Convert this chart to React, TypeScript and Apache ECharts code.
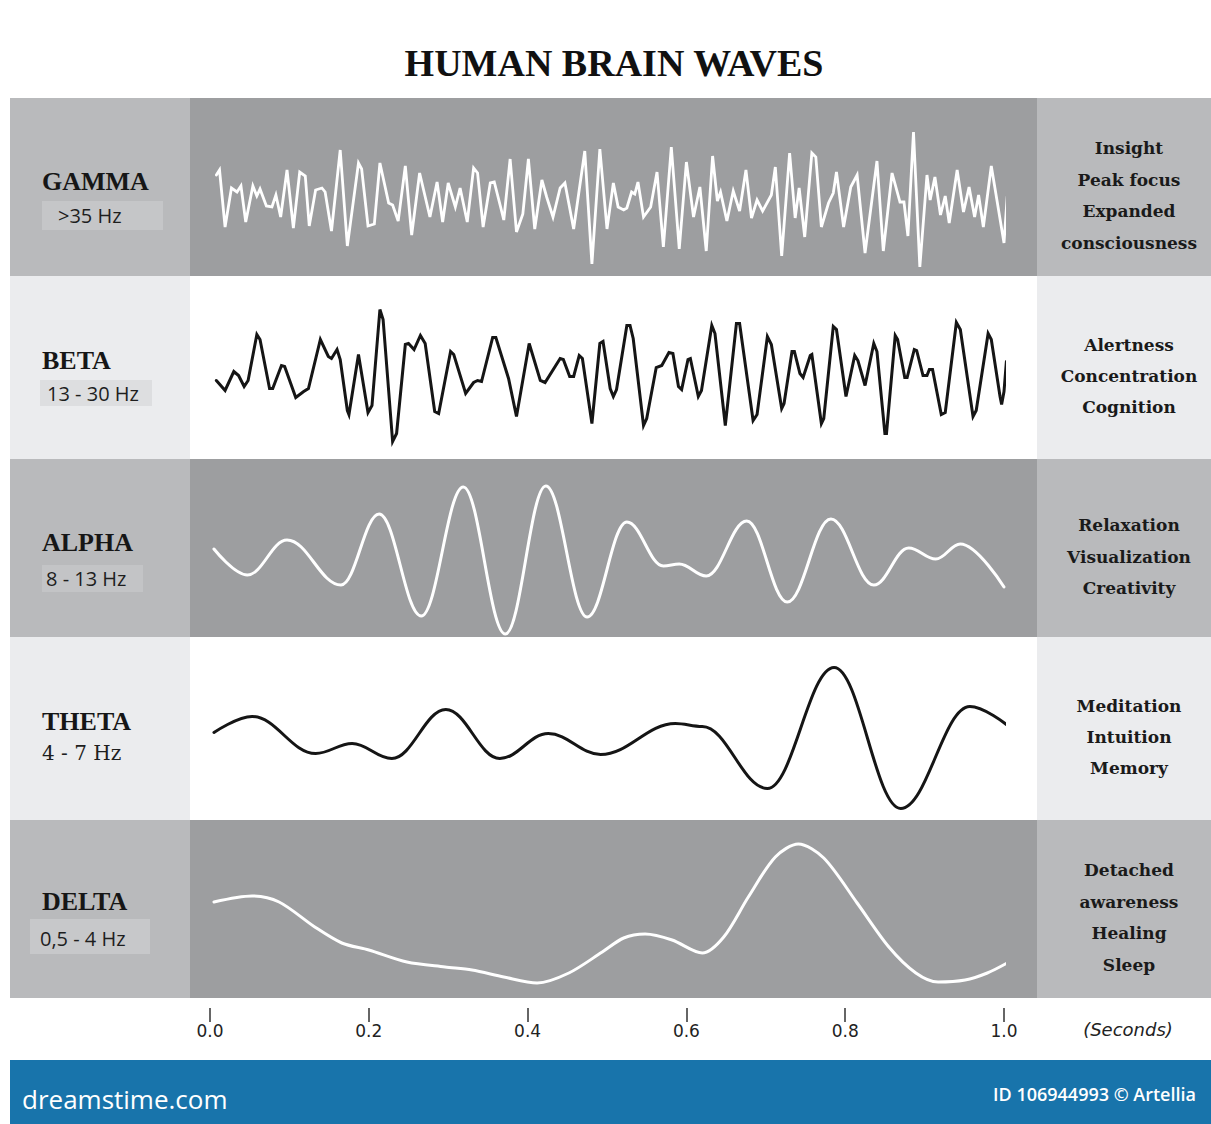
import React, { useEffect, useRef } from "react";
import * as echarts from "echarts";

// ---------- data ----------
const chartTitle = "HUMAN BRAIN WAVES";
const bandNames = ["GAMMA", "BETA", "ALPHA", "THETA", "DELTA"];
const bandRanges = [">35 Hz", "13 - 30 Hz", "8 - 13 Hz", "4 - 7 Hz", "0,5 - 4 Hz"];
const bandStates = [
  ["Insight", "Peak focus", "Expanded", "consciousness"],
  ["Alertness", "Concentration", "Cognition"],
  ["Relaxation", "Visualization", "Creativity"],
  ["Meditation", "Intuition", "Memory"],
  ["Detached", "awareness", "Healing", "Sleep"],
];
const axisUnit = "(Seconds)";
const footerSite = "dreamstime.com";
const footerCredit = "ID 106944993 \u00A9 Artellia";

// [time in ms, amplitude (arbitrary units)]
const gammaWave = [
  [8, 12], [12, 17], [19, -40], [27, -1], [34, -5], [39, 1], [45, -35], [54, 1], [59, -9], [63, -2],
  [71, -19], [78, -20], [83, -8], [89, -30], [97, 17], [105, -41], [113, 15], [120, 11], [125, -39], [133, -3],
  [141, -1], [145, -5], [153, -44], [164, 37], [173, -59], [187, 24], [191, 18], [199, -39], [207, -37], [214, 24],
  [225, -16], [230, -18], [237, -34], [246, 21], [254, -48], [264, 14], [277, -30], [286, 5], [293, -35], [300, 4],
  [309, -20], [315, -1], [324, -35], [332, 19], [337, 14], [344, -40], [353, 4], [358, 5], [366, -20], [370, -33],
  [378, 28], [386, -45], [394, -27], [401, 28], [409, -42], [418, 7], [424, -10], [432, -30], [441, -1], [447, 4],
  [458, -42], [472, 36], [481, -77], [491, 38], [500, -42], [508, 4], [514, -20], [521, -23], [525, -21], [531, -5],
  [535, -7], [539, 5], [546, -30], [555, -20], [563, 15], [571, -60], [581, 40], [591, -62], [600, 25], [609, -30],
  [617, 0], [625, -64], [633, 31], [639, -14], [643, -5], [651, -34], [659, -4], [667, -24], [675, 17], [682, -31],
  [689, -13], [696, -24], [707, -8], [712, 20], [720, -69], [730, 34], [737, -31], [742, -1], [749, -50], [758, 34],
  [763, 30], [770, -40], [779, -16], [785, -6], [789, 15], [798, -40], [807, 0], [815, 12], [825, -66], [840, 26],
  [848, -64], [859, 14], [869, -15], [874, -15], [879, -49], [886, 55], [894, -80], [903, 12], [907, -13], [913, 10],
  [920, -28], [926, -9], [931, -36], [941, 17], [949, -25], [956, 0], [963, -30], [968, -8], [974, -40], [984, 21],
  [1000, -56], [1004, -10],
];

const betaWave = [
  [8, -13], [19, -23], [30, -4], [36, -8], [43, -19], [48, -13], [59, 33], [63, 28], [75, -21], [79, -21],
  [90, 2], [94, 1], [108, -30], [118, -24], [124, -21], [139, 28], [149, 11], [153, 9], [160, 18], [164, 8],
  [173, -43], [175, -47], [187, 13], [199, -45], [204, -38], [214, 58], [218, 48], [230, -74], [235, -66], [246, 23],
  [250, 24], [257, 18], [265, 32], [271, 24], [283, -44], [288, -46], [303, 16], [307, 13], [322, -26], [332, -15],
  [337, -13], [342, -14], [356, 30], [360, 30], [376, -11], [386, -49], [402, 24], [416, -13], [422, -15], [441, 9],
  [445, 8], [453, -9], [458, -9], [465, 12], [469, 9], [481, -56], [491, 24], [495, 26], [504, -21], [508, -29],
  [512, -22], [525, 42], [529, 42], [533, 29], [546, -58], [550, -51], [562, 0], [569, 2], [578, 15], [583, 14],
  [590, -19], [594, -22], [602, 8], [605, 9], [615, -29], [619, -23], [632, 42], [636, 34], [649, -58], [663, 44],
  [667, 44], [684, -53], [689, -47], [702, 31], [707, 23], [720, -41], [723, -36], [733, 16], [736, 16], [743, -6],
  [747, -10], [756, 12], [758, 13], [770, -56], [773, -51], [785, 41], [789, 38], [801, -29], [812, 12], [816, 7],
  [825, -18], [836, 24], [840, 16], [850, -66], [852, -66], [863, 32], [866, 28], [875, -10], [878, -10], [887, 18],
  [890, 17], [898, -8], [903, -8], [906, -2], [910, -2], [921, -47], [926, -45], [940, 45], [945, 38], [961, -49],
  [965, -43], [980, 34], [984, 28], [995, -29], [997, -37], [1000, -24], [1003, 6],
];

const alphaWave = [
  [5, -1], [47, -27], [97, 8], [165, -37], [213, 34], [266, -68], [319, 61], [372, -86], [423, 62], [475, -69],
  [525, 26], [571, -18], [591, -16], [625, -28], [676, 27], [727, -54], [782, 29], [836, -37], [880, 0], [914, -11],
  [945, 4], [1000, -39],
];

const thetaWave = [
  [5, -4], [53, 12], [133, -25], [179, -15], [229, -30], [297, 19], [365, -30], [426, -5], [492, -26], [586, 5],
  [620, 2], [702, -60], [786, 61], [870, -80], [957, 22], [1003, 4],
];

const deltaWave = [
  [5, 7], [53, 13], [87, 7], [132, -18], [166, -34], [200, -41], [248, -53], [296, -58], [330, -61], [370, -68],
  [412, -74], [452, -64], [494, -43], [521, -29], [548, -25], [582, -31], [620, -44], [647, -28], [678, 12], [712, 52],
  [741, 65], [773, 51], [815, 6], [855, -38], [889, -64], [917, -73], [951, -71], [979, -64], [1004, -54],
];

const timeTicksMs = [0, 200, 400, 600, 800, 1000];

// ---------- layout / style ----------
const ROWS = [
  { top: 98, height: 178, dark: true, nameY: 181, rangeY: 215, rangeX: 58, box: [42, 201, 121, 29], boxFill: "#c5c6c8", serifRange: false },
  { top: 276, height: 183, dark: false, nameY: 360, rangeY: 393, rangeX: 47, box: [40, 380, 112, 26], boxFill: "#dddee0", serifRange: false },
  { top: 459, height: 178, dark: true, nameY: 542, rangeY: 578, rangeX: 46, box: [42, 565, 101, 27], boxFill: "#c3c4c6", serifRange: false },
  { top: 637, height: 183, dark: false, nameY: 721, rangeY: 753, rangeX: 42, box: null, boxFill: "", serifRange: true },
  { top: 820, height: 178, dark: true, nameY: 901, rangeY: 938, rangeX: 40, box: [30, 919, 120, 35], boxFill: "#c7c8ca", serifRange: false },
];
const WAVES = [
  { data: gammaWave, color: "#ffffff", width: 2.8, smooth: false as any, mono: undefined as any },
  { data: betaWave, color: "#151515", width: 3, smooth: false as any, mono: undefined as any },
  { data: alphaWave, color: "#ffffff", width: 3, smooth: 0.38, mono: "x" },
  { data: thetaWave, color: "#151515", width: 3, smooth: 0.38, mono: "x" },
  { data: deltaWave, color: "#ffffff", width: 3, smooth: 0.3, mono: undefined as any },
];
const PLOT_LEFT = 210;
const PLOT_WIDTH = 794;

function txt(x: number, y: number, text: string, font: string, fill: string, align = "left") {
  return {
    type: "text",
    silent: true,
    z: 10,
    style: {
      x,
      y,
      text,
      font,
      fill,
      textAlign: align,
      align,
      textVerticalAlign: "middle",
      verticalAlign: "middle",
    },
  };
}

function buildOption() {
  const graphic: any[] = [];
  graphic.push(txt(614, 63, chartTitle, "bold 38px 'Liberation Serif'", "#111111", "center"));

  ROWS.forEach((r, i) => {
    const side = r.dark ? "#b9babc" : "#ebecee";
    const mid = r.dark ? "#9d9ea0" : "#ffffff";
    graphic.push({ type: "rect", silent: true, z: 0, shape: { x: 10, y: r.top, width: 180, height: r.height }, style: { fill: side } });
    graphic.push({ type: "rect", silent: true, z: 0, shape: { x: 190, y: r.top, width: 847, height: r.height }, style: { fill: mid } });
    graphic.push({ type: "rect", silent: true, z: 0, shape: { x: 1037, y: r.top, width: 174, height: r.height }, style: { fill: side } });
    if (r.box) {
      const [bx, by, bw, bh] = r.box;
      graphic.push({ type: "rect", silent: true, z: 1, shape: { x: bx, y: by, width: bw, height: bh }, style: { fill: r.boxFill } });
    }
    graphic.push(txt(42, r.nameY, bandNames[i], "bold 26px 'Liberation Serif'", "#161616"));
    graphic.push(
      txt(
        r.rangeX,
        r.rangeY,
        bandRanges[i],
        r.serifRange ? "20px 'DejaVu Serif'" : "20px 'Open Sans'",
        "#1e1e1e"
      )
    );
    const lines = bandStates[i];
    const cy = r.top + r.height / 2 + 8.5;
    lines.forEach((ln, k) => {
      const y = cy + (k - (lines.length - 1) / 2) * 31.4;
      graphic.push(txt(1129, y, ln, "bold 17px 'DejaVu Serif'", "#1a1a1a", "center"));
    });
  });

  graphic.push(txt(1128, 1029, axisUnit, "italic 18px 'DejaVu Sans'", "#222222", "center"));

  // footer
  graphic.push({ type: "rect", silent: true, z: 0, shape: { x: 10, y: 1060, width: 1201, height: 64 }, style: { fill: "#1874ab" } });
  graphic.push(txt(22, 1099, footerSite, "26px 'Open Sans'", "#ffffff"));
  graphic.push(txt(1196, 1094, footerCredit, "600 18px 'Open Sans'", "#ffffff", "right"));

  const grid = ROWS.map((r) => ({ left: PLOT_LEFT, width: PLOT_WIDTH, top: r.top, height: r.height }));
  const xAxis = ROWS.map((r, i) => {
    const last = i === ROWS.length - 1;
    return {
      type: "value",
      gridIndex: i,
      position: "bottom",
      min: timeTicksMs[0],
      max: timeTicksMs[timeTicksMs.length - 1],
      interval: timeTicksMs[1] - timeTicksMs[0],
      show: last,
      offset: 10,
      axisLine: { show: false, onZero: false },
      splitLine: { show: false },
      axisTick: { show: last, inside: false, length: 14, lineStyle: { color: "#333333", width: 1.5 } },
      axisLabel: {
        show: last,
        margin: 14,
        color: "#222222",
        fontSize: 17,
        fontFamily: "DejaVu Sans",
        formatter: (v: number) => (v / 1000).toFixed(1),
      },
    };
  });
  const yAxis = ROWS.map((r, i) => ({
    type: "value",
    gridIndex: i,
    min: -r.height / 2,
    max: r.height / 2,
    show: false,
  }));
  const series = WAVES.map((w, i) => ({
    type: "line",
    xAxisIndex: i,
    yAxisIndex: i,
    data: w.data,
    showSymbol: false,
    symbol: "none",
    smooth: w.smooth,
    smoothMonotone: w.mono,
    clip: false,
    silent: true,
    z: 5,
    lineStyle: { color: w.color, width: w.width, join: "miter", miterLimit: 4, cap: "round" },
  }));

  return {
    animation: false,
    backgroundColor: "#ffffff",
    grid,
    xAxis,
    yAxis,
    series,
    graphic: { elements: graphic },
  };
}

export default function App() {
  const ref = useRef<HTMLDivElement>(null);
  useEffect(() => {
    document.body.style.margin = "0";
    const chart = echarts.init(ref.current as HTMLDivElement, null, { renderer: "svg" });
    chart.setOption(buildOption() as any);
    return () => chart.dispose();
  }, []);
  return <div ref={ref} style={{ width: 1211, height: 1124 }} />;
}
